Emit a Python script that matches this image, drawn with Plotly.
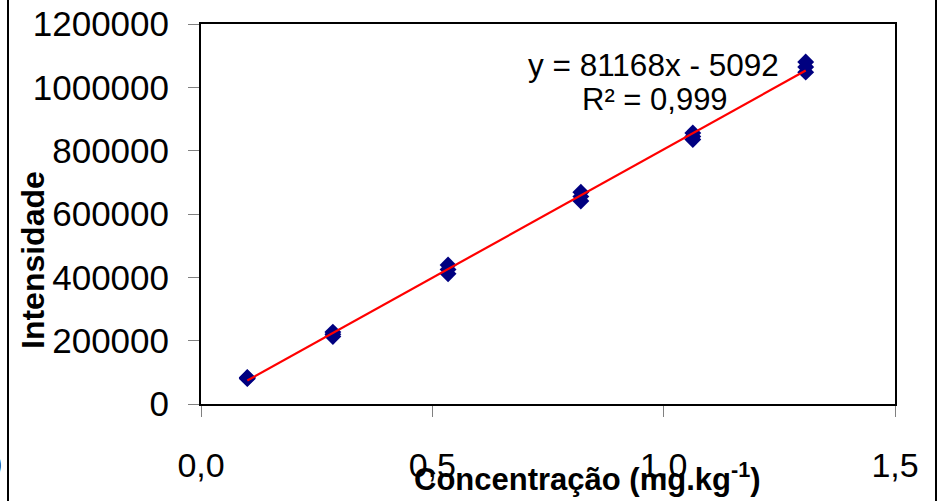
import numpy as np
import plotly.graph_objects as go

# Data
concentracao = [0.10, 0.285, 0.534, 0.821, 1.063, 1.307]
replica_1 = [84000, 227000, 439000, 669000, 856000, 1080000]
replica_2 = [80000, 213000, 411000, 641000, 835000, 1048000]
replica_3 = [82000, 220000, 425000, 655000, 845000, 1064000]

x_tickvals = [0.0, 0.5, 1.0, 1.5]
x_ticktext = ["0,0", "0,5", "1,0", "1,5"]
y_tickvals = [0, 200000, 400000, 600000, 800000, 1000000, 1200000]

equation_text = "y = 81168x - 5092"
r2_text = "R² = 0,999"

x_all = concentracao * 3
y_all = replica_1 + replica_2 + replica_3
slope, intercept = np.polyfit(x_all, y_all, 1)
x_fit = [min(concentracao), max(concentracao)]
y_fit = [slope * v + intercept for v in x_fit]

FONT = "Liberation Sans, Arial, sans-serif"
W, H = 942, 501
L, R, T, B = 201, 47, 24, 97
PW, PH = W - L - R, H - T - B


def px(xp):
    return (xp - L) / PW


def py(yp):
    return (T + PH - yp) / PH


fig = go.Figure()
fig.add_trace(go.Scatter(
    x=x_all, y=y_all, mode="markers",
    marker=dict(symbol="diamond", size=13, color="#000080",
                line=dict(width=0)),
    showlegend=False, cliponaxis=False))
fig.add_trace(go.Scatter(
    x=x_fit, y=y_fit, mode="lines",
    line=dict(color="#FF0000", width=2.2),
    showlegend=False, cliponaxis=False))

fig.update_layout(
    width=W, height=H,
    margin=dict(l=L, r=R, t=T, b=B, pad=0, autoexpand=False),
    paper_bgcolor="white", plot_bgcolor="white",
    font=dict(family=FONT, color="black"),
    xaxis=dict(range=[0, 1.5], tickvals=x_tickvals, ticktext=x_ticktext,
               showgrid=False, zeroline=False, showline=True, mirror=True,
               linecolor="black", linewidth=2,
               ticks="outside", ticklen=11, tickcolor="#808080", tickwidth=1,
               tickfont=dict(size=34, family=FONT), ticklabelstandoff=19),
    yaxis=dict(range=[0, 1200000], tickvals=y_tickvals, tickformat="d",
               showgrid=False, zeroline=False, showline=True, mirror=True,
               linecolor="black", linewidth=2,
               ticks="outside", ticklen=11, tickcolor="#808080", tickwidth=1,
               tickfont=dict(size=35, family=FONT), ticklabelstandoff=12),
)

# outer chart frame (left and right edges visible; top/bottom fall outside the picture)
fig.add_annotation(
    xref="paper", yref="paper", x=px(471.5), y=py(250.5),
    xanchor="center", yanchor="middle", text="", showarrow=False,
    width=926, height=540, bordercolor="black", borderwidth=2, borderpad=0)

annotations = [
    dict(text="<b>Concentração (mg.kg<sup>-1</sup>)</b>", x=px(587), y=py(477),
         font=dict(size=31)),
    dict(text="<b>Intensidade</b>", x=px(33), y=py(260), textangle=-90,
         font=dict(size=32)),
    dict(text=equation_text, x=px(653), y=py(65), font=dict(size=31.5)),
    dict(text=r2_text, x=px(655), y=py(100), font=dict(size=31)),
    dict(text="0", x=px(4), y=py(465), xanchor="right", font=dict(size=34)),
]
for a in annotations:
    a.setdefault("xanchor", "center")
    fig.add_annotation(xref="paper", yref="paper", yanchor="middle",
                       showarrow=False, font_family=FONT, **a)

fig.write_html("out.html", config={"displayModeBar": False},
               post_script="document.body.style.margin='0px';")
